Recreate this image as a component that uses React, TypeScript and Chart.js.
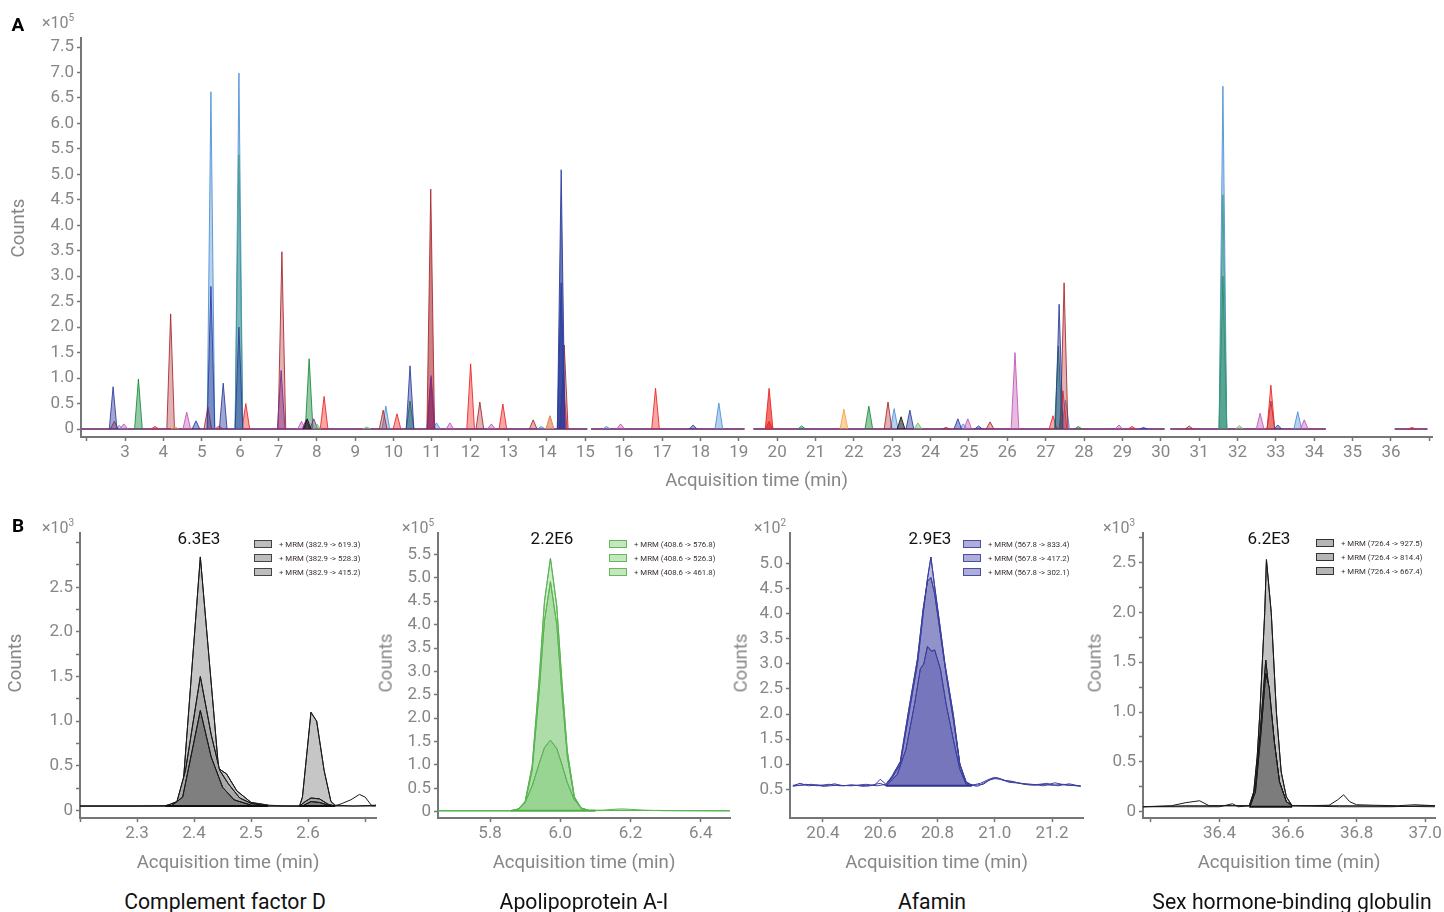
import React, { useEffect, useRef } from 'react';
import { Chart, registerables } from 'chart.js';

Chart.register(...registerables);

const FONT = 'Roboto, "Noto Sans", "DejaVu Sans", sans-serif';
const TICK_GRAY = '#868686';
const AXIS_GRAY = '#74777a';

/* ================= Panel A: MRM chromatogram (x10^5 counts) ================= */
const A_X_TICKS = [2, 3, 4, 5, 6, 7, 8, 9, 10, 11, 12, 13, 14, 15, 16, 17, 18, 19, 20, 21, 22, 23, 24, 25, 26, 27, 28, 29, 30, 31, 32, 33, 34, 35, 36, 37];
const A_X_LABELED = [3, 4, 5, 6, 7, 8, 9, 10, 11, 12, 13, 14, 15, 16, 17, 18, 19, 20, 21, 22, 23, 24, 25, 26, 27, 28, 29, 30, 31, 32, 33, 34, 35, 36];
const A_Y_TICKS = [0, 0.5, 1, 1.5, 2, 2.5, 3, 3.5, 4, 4.5, 5, 5.5, 6, 6.5, 7, 7.5];

// peaks: [retention time (min), apex height (x10^5)]
const A_LIGHTBLUE = [[2.85, 0.07], [5.24, 6.62], [5.97, 6.99], [9.8, 0.45], [11.12, 0.12], [13.85, 0.05], [15.55, 0.05], [18.48, 0.51], [23.05, 0.4], [24.85, 0.1], [27.52, 0.57], [31.62, 6.73], [33.57, 0.34]];
const A_TEAL = [[5.97, 5.38], [31.62, 4.6]];
const A_NAVY = [[2.69, 0.83], [4.85, 0.16], [5.24, 2.8], [5.56, 0.9], [5.97, 2.0], [10.43, 1.24], [14.37, 5.09], [14.37, 2.87], [17.81, 0.08], [23.46, 0.37], [24.71, 0.2], [25.25, 0.06], [27.35, 2.45], [29.55, 0.03], [33.05, 0.08]];
const A_GREEN = [[3.35, 0.98], [7.8, 1.38], [10.43, 0.55], [20.64, 0.06], [22.39, 0.45], [27.33, 1.63], [27.85, 0.05], [31.62, 3.0]];
const A_LIGHTGREEN = [[8.0, 0.1], [9.3, 0.04], [23.67, 0.12], [32.05, 0.07]];
const A_RED = [[3.78, 0.05], [5.45, 0.06], [6.15, 0.5], [8.19, 0.64], [10.09, 0.3], [12.01, 1.28], [12.85, 0.49], [14.42, 1.0], [16.83, 0.8], [19.79, 0.8], [19.79, 0.15], [27.19, 0.26], [27.45, 0.75], [29.25, 0.05], [32.87, 0.86], [36.55, 0.03]];
const A_DARKRED = [[2.72, 0.15], [4.19, 2.26], [5.16, 0.43], [7.09, 3.48], [9.73, 0.37], [10.97, 4.71], [10.97, 1.0], [12.25, 0.53], [13.64, 0.18], [14.45, 1.65], [22.89, 0.53], [24.4, 0.03], [25.55, 0.14], [27.48, 2.87], [30.74, 0.06], [32.87, 0.55]];
const A_MAGENTA = [[2.97, 0.1], [4.61, 0.33], [7.6, 0.15], [11.47, 0.12], [12.55, 0.1], [14.08, 0.26], [15.92, 0.1], [24.97, 0.2], [26.2, 1.5], [28.91, 0.08], [32.59, 0.31], [33.74, 0.18]];
const A_PURPLE = [[7.07, 1.15], [7.72, 0.18], [7.92, 0.2], [10.98, 1.05]];
const A_ORANGE = [[4.3, 0.05], [14.07, 0.25], [21.74, 0.39]];
const A_BLACK = [[7.75, 0.2], [23.23, 0.24]];
// acquisition segments (min) drawn as baseline
const A_BASE_SEGMENTS = [[1.86, 15.05], [15.15, 19.15], [19.38, 30.1], [30.25, 34.3], [36.1, 36.95]];

/* ================= Panel B1: Complement factor D (x10^3) ================= */
const B1_X_TICKS = [2.2, 2.3, 2.4, 2.5, 2.6, 2.7];
const B1_X_LABELED = [2.3, 2.4, 2.5, 2.6];
const B1_Y_TICKS = [0, 0.25, 0.5, 0.75, 1, 1.25, 1.5, 1.75, 2, 2.25, 2.5, 2.75, 3];
const B1_Y_LABELED = [0, 0.5, 1, 1.5, 2, 2.5];
const B1_619 = [[2.2, 0.05], [2.3, 0.05], [2.35, 0.055], [2.37, 0.08], [2.38, 0.22], [2.411, 2.84], [2.443, 0.47], [2.457, 0.41], [2.475, 0.22], [2.5, 0.09], [2.53, 0.06], [2.56, 0.05], [2.585, 0.05], [2.59, 0.15], [2.605, 1.1], [2.615, 1.0], [2.628, 0.45], [2.64, 0.1], [2.647, 0.06], [2.68, 0.05], [2.72, 0.06]];
const B1_528 = [[2.2, 0.05], [2.35, 0.05], [2.37, 0.1], [2.385, 0.45], [2.411, 1.5], [2.43, 0.85], [2.445, 0.45], [2.46, 0.3], [2.48, 0.14], [2.5, 0.08], [2.53, 0.05], [2.585, 0.05], [2.595, 0.1], [2.605, 0.14], [2.62, 0.13], [2.635, 0.07], [2.647, 0.05], [2.66, 0.08], [2.675, 0.12], [2.69, 0.18], [2.7, 0.15], [2.712, 0.05], [2.72, 0.06]];
const B1_415 = [[2.2, 0.05], [2.36, 0.05], [2.38, 0.15], [2.411, 1.12], [2.43, 0.6], [2.45, 0.26], [2.47, 0.12], [2.5, 0.06], [2.53, 0.05], [2.59, 0.05], [2.605, 0.1], [2.62, 0.09], [2.64, 0.05], [2.72, 0.05]];
const B1_FILL = [[2.35, 2.53], [2.585, 2.647]];
const B1_BASE = 0.05;
const B1_LEGEND = ['+ MRM (382.9 -> 619.3)', '+ MRM (382.9 -> 528.3)', '+ MRM (382.9 -> 415.2)'];

/* ================= Panel B2: Apolipoprotein A-I (x10^5) ================= */
const B2_X_TICKS = [5.8, 6.0, 6.2, 6.4];
const B2_Y_TICKS = [0, 0.5, 1, 1.5, 2, 2.5, 3, 3.5, 4, 4.5, 5, 5.5];
const B2_576 = [[5.652, 0.02], [5.86, 0.02], [5.88, 0.05], [5.9, 0.22], [5.92, 0.98], [5.94, 2.85], [5.955, 4.5], [5.972, 5.42], [5.99, 4.4], [6.005, 2.75], [6.02, 1.3], [6.04, 0.32], [6.06, 0.07], [6.08, 0.03], [6.12, 0.03], [6.15, 0.05], [6.175, 0.06], [6.2, 0.05], [6.24, 0.03], [6.3, 0.02], [6.483, 0.02]];
const B2_526 = [[5.652, 0.02], [5.86, 0.02], [5.88, 0.04], [5.9, 0.2], [5.92, 0.88], [5.94, 2.58], [5.955, 4.08], [5.972, 4.92], [5.99, 4.0], [6.005, 2.5], [6.02, 1.18], [6.04, 0.29], [6.06, 0.06], [6.08, 0.02], [6.175, 0.03], [6.483, 0.02]];
const B2_461 = [[5.652, 0.02], [5.86, 0.02], [5.88, 0.06], [5.9, 0.2], [5.92, 0.55], [5.94, 1.03], [5.955, 1.37], [5.972, 1.53], [5.99, 1.35], [6.005, 1.0], [6.02, 0.62], [6.04, 0.25], [6.06, 0.08], [6.08, 0.03], [6.483, 0.02]];
const B2_FILL = [[5.86, 6.1]];
const B2_BASE = 0.02;
const B2_LEGEND = ['+ MRM (408.6 -> 576.8)', '+ MRM (408.6 -> 526.3)', '+ MRM (408.6 -> 461.8)'];

/* ================= Panel B3: Afamin (x10^2) ================= */
const B3_X_TICKS = [20.4, 20.6, 20.8, 21.0, 21.2];
const B3_Y_TICKS = [0.5, 1, 1.5, 2, 2.5, 3, 3.5, 4, 4.5, 5];
const B3_833 = [[20.295, 0.57], [20.32, 0.62], [20.35, 0.57], [20.38, 0.59], [20.41, 0.57], [20.44, 0.61], [20.47, 0.57], [20.5, 0.59], [20.54, 0.56], [20.58, 0.58], [20.6, 0.7], [20.62, 0.6], [20.64, 0.72], [20.67, 1.0], [20.7, 2.0], [20.73, 3.0], [20.75, 4.0], [20.765, 4.7], [20.777, 5.13], [20.79, 4.55], [20.81, 3.7], [20.826, 3.0], [20.855, 2.0], [20.878, 1.0], [20.9, 0.65], [20.92, 0.58], [20.95, 0.62], [20.98, 0.7], [21.0, 0.74], [21.03, 0.68], [21.06, 0.66], [21.1, 0.6], [21.14, 0.58], [21.18, 0.62], [21.22, 0.57], [21.26, 0.61], [21.3, 0.56]];
const B3_417 = [[20.295, 0.58], [20.33, 0.58], [20.36, 0.6], [20.4, 0.56], [20.45, 0.58], [20.5, 0.57], [20.55, 0.6], [20.59, 0.57], [20.62, 0.6], [20.64, 0.75], [20.67, 1.05], [20.7, 2.1], [20.73, 3.1], [20.75, 4.1], [20.765, 4.65], [20.777, 4.72], [20.79, 4.4], [20.81, 3.6], [20.83, 2.8], [20.855, 1.9], [20.878, 1.0], [20.9, 0.62], [20.93, 0.58], [20.96, 0.6], [20.99, 0.72], [21.02, 0.7], [21.05, 0.64], [21.09, 0.62], [21.13, 0.6], [21.17, 0.57], [21.21, 0.63], [21.25, 0.58], [21.3, 0.57]];
const B3_302 = [[20.295, 0.56], [20.34, 0.6], [20.38, 0.57], [20.42, 0.6], [20.46, 0.57], [20.5, 0.58], [20.56, 0.57], [20.6, 0.62], [20.62, 0.57], [20.66, 0.8], [20.69, 1.3], [20.72, 2.2], [20.74, 2.9], [20.752, 3.0], [20.765, 3.35], [20.78, 3.25], [20.79, 3.28], [20.81, 2.9], [20.83, 2.2], [20.855, 1.5], [20.878, 0.9], [20.9, 0.6], [20.94, 0.56], [20.98, 0.68], [21.01, 0.73], [21.04, 0.67], [21.08, 0.63], [21.12, 0.59], [21.16, 0.6], [21.2, 0.58], [21.24, 0.6], [21.3, 0.56]];
const B3_FILL = [[20.62, 20.92]];
const B3_BASE = 0.57;
const B3_LEGEND = ['+ MRM (567.8 -> 833.4)', '+ MRM (567.8 -> 417.2)', '+ MRM (567.8 -> 302.1)'];

/* ================= Panel B4: Sex hormone-binding globulin (x10^3) ================= */
const B4_X_TICKS = [36.2, 36.4, 36.6, 36.8, 37.0];
const B4_X_LABELED = [36.4, 36.6, 36.8, 37.0];
const B4_Y_TICKS = [0, 0.25, 0.5, 0.75, 1, 1.25, 1.5, 1.75, 2, 2.25, 2.5, 2.75];
const B4_Y_LABELED = [0, 0.5, 1, 1.5, 2, 2.5];
const B4_927 = [[36.177, 0.05], [36.25, 0.055], [36.3, 0.06], [36.4, 0.06], [36.487, 0.06], [36.5, 0.2], [36.51, 0.55], [36.518, 1.0], [36.532, 2.0], [36.537, 2.53], [36.551, 2.0], [36.566, 1.0], [36.58, 0.4], [36.595, 0.15], [36.612, 0.06], [36.65, 0.06], [36.72, 0.065], [36.745, 0.12], [36.762, 0.17], [36.78, 0.1], [36.8, 0.07], [36.85, 0.065], [36.92, 0.06], [36.97, 0.07], [37.029, 0.06]];
const B4_814 = [[36.177, 0.05], [36.26, 0.06], [36.3, 0.09], [36.342, 0.11], [36.37, 0.06], [36.45, 0.06], [36.49, 0.06], [36.505, 0.25], [36.52, 0.85], [36.535, 1.52], [36.545, 1.2], [36.56, 0.7], [36.575, 0.3], [36.595, 0.1], [36.612, 0.06], [36.7, 0.06], [36.8, 0.06], [36.9, 0.055], [37.029, 0.05]];
const B4_667 = [[36.177, 0.05], [36.3, 0.05], [36.4, 0.05], [36.438, 0.08], [36.455, 0.05], [36.49, 0.06], [36.505, 0.2], [36.52, 0.75], [36.535, 1.39], [36.545, 1.25], [36.56, 0.7], [36.575, 0.3], [36.595, 0.1], [36.612, 0.06], [36.75, 0.05], [36.9, 0.05], [37.0, 0.06], [37.029, 0.06]];
const B4_FILL = [[36.487, 36.612]];
const B4_BASE = 0.05;
const B4_LEGEND = ['+ MRM (726.4 -> 927.5)', '+ MRM (726.4 -> 814.4)', '+ MRM (726.4 -> 667.4)'];

/* ================= layout (page pixels) ================= */
type Geo = { left: number; top: number; width: number; height: number; areaL: number; areaR: number; areaT: number; areaB: number; padY: number };
const GEO_A: Geo = { left: 0, top: 0, width: 1444, height: 500, areaL: 81, areaR: 1432, areaT: 38, areaB: 437, padY: 7 };
const GEO_B1: Geo = { left: 0, top: 520, width: 386, height: 360, areaL: 80, areaR: 376, areaT: 533, areaB: 818, padY: 5 };
const GEO_B2: Geo = { left: 372, top: 520, width: 366, height: 360, areaL: 438, areaR: 730, areaT: 533, areaB: 818, padY: 5 };
const GEO_B3: Geo = { left: 727, top: 520, width: 365, height: 360, areaL: 790, areaR: 1083, areaT: 533, areaB: 818, padY: 5 };
const GEO_B4: Geo = { left: 1081, top: 520, width: 363, height: 360, areaL: 1143, areaR: 1437, areaT: 533, areaB: 818, padY: 5 };

const A_PEAK_HALF_WIDTH = 0.1;

function axis(kind: 'x' | 'y', geo: Geo, min: number, max: number, ticks: number[], label: (v: number) => string, title: string) {
  return {
    type: 'linear',
    position: kind === 'x' ? 'bottom' : 'left',
    min,
    max,
    afterBuildTicks: (s: any) => {
      s.ticks = ticks.map((v) => ({ value: v }));
    },
    afterFit: (s: any) => {
      if (kind === 'x') s.height = geo.top + geo.height - geo.areaB;
      else s.width = geo.areaL - geo.left;
    },
    ticks: {
      autoSkip: false,
      maxRotation: 0,
      minRotation: 0,
      padding: kind === 'x' ? 2 : 3,
      color: TICK_GRAY,
      font: { family: FONT, size: 17 },
      callback: (v: any) => label(Number(v)),
    },
    grid: { drawOnChartArea: false, drawTicks: true, tickLength: 4, tickWidth: 1.5, color: AXIS_GRAY },
    border: { display: true, color: AXIS_GRAY, width: 2 },
    title: {
      display: kind === 'x',
      text: title,
      color: TICK_GRAY,
      font: { family: FONT, size: 18.6 },
      padding: { top: 0, bottom: geo.padY },
    },
  };
}

function options(geo: Geo, x: any, y: any) {
  return {
    responsive: false,
    maintainAspectRatio: false,
    animation: false,
    layout: { padding: { left: 0, top: geo.areaT - geo.top, right: geo.left + geo.width - geo.areaR, bottom: 0 } },
    plugins: { legend: { display: false }, tooltip: { enabled: false } },
    elements: { point: { radius: 0 }, line: { tension: 0 } },
    scales: { x, y },
  };
}

function oneDec(v: number) {
  return v === 0 ? '0' : v.toFixed(1);
}

function peakSeries(peaks: number[][], color: string, fillAlpha: number) {
  const data: any[] = [];
  [...peaks].sort((a, b) => a[0] - b[0]).forEach(([t, h]) => {
    data.push({ x: t - A_PEAK_HALF_WIDTH, y: 0 }, { x: t, y: h }, { x: t + A_PEAK_HALF_WIDTH, y: 0 }, { x: t + A_PEAK_HALF_WIDTH, y: null });
  });
  return { data, borderColor: color + 'dd', borderWidth: 1, backgroundColor: color + Math.round(fillAlpha * 255).toString(16).padStart(2, '0'), fill: 'origin', pointRadius: 0, spanGaps: false };
}

function baseSeries(color: string, width: number) {
  const data: any[] = [];
  A_BASE_SEGMENTS.forEach(([a, b]) => {
    data.push({ x: a, y: 0 }, { x: b, y: 0 }, { x: b, y: null });
  });
  return { data, borderColor: color, borderWidth: width, fill: false, pointRadius: 0, spanGaps: false };
}

function buildA() {
  // back-to-front
  const layers = [
    peakSeries(A_LIGHTBLUE, '#4b8fd6', 0.4),
    peakSeries(A_DARKRED, '#a8262c', 0.35),
    peakSeries(A_RED, '#ec2320', 0.4),
    peakSeries(A_MAGENTA, '#c253b4', 0.4),
    peakSeries(A_ORANGE, '#f2a13a', 0.45),
    peakSeries(A_GREEN, '#178a3a', 0.45),
    peakSeries(A_TEAL, '#3f9a86', 0.45),
    peakSeries(A_NAVY, '#2b3b9c', 0.45),
    peakSeries(A_PURPLE, '#7d2b8c', 0.45),
    peakSeries(A_LIGHTGREEN, '#5fc85a', 0.45),
    peakSeries(A_BLACK, '#111111', 0.55),
  ];
  return [...layers.reverse(), baseSeries('#d94f6a', 1), baseSeries('#3650a8', 2.2)];
}

function buildPanel(traces: number[][][], fillRanges: number[][], base: number, fills: string[], borders: string[], baseColor: string) {
  const ds: any[] = [];
  fillRanges.forEach(([a, b]) => {
    ds.push({ data: [{ x: a, y: base }, { x: b, y: base }], borderColor: baseColor, borderWidth: 2, fill: false, pointRadius: 0 });
  });
  for (let i = 0; i < traces.length; i++) {
    const pts = traces[i].map(([x, y]) => ({ x, y }));
    ds.push({ data: pts, borderColor: borders[i], borderWidth: 1, fill: false, pointRadius: 0 });
    fillRanges.forEach(([a, b]) => {
      ds.push({ data: pts.filter((p) => p.x >= a && p.x <= b), borderColor: borders[i], borderWidth: 1, backgroundColor: fills[i], fill: { value: base }, pointRadius: 0 });
    });
  }
  return ds;
}

const Txt = ({ x, y, size, color, bold, rotate, children }: any) => (
  <div style={{ position: 'absolute', left: x, top: y, transform: `translate(-50%, -50%)${rotate ? ' rotate(-90deg)' : ''}`, fontSize: size, color, fontWeight: bold ? 700 : 400, lineHeight: 1, whiteSpace: 'nowrap', fontFamily: FONT }}>{children}</div>
);

const Exp = ({ x, y, p }: any) => (
  <div style={{ position: 'absolute', left: x, top: y, transform: 'translate(-50%, -50%)', fontSize: 16, color: TICK_GRAY, lineHeight: 1, whiteSpace: 'nowrap', fontFamily: FONT }}>
    ×10<span style={{ fontSize: 10, position: 'relative', top: -7 }}>{p}</span>
  </div>
);

const Legend = ({ x, y, items, fill, border }: any) => (
  <>
    {items.map((t: string, i: number) => (
      <div key={i} style={{ position: 'absolute', left: x, top: y + i * 14 - 5, height: 10, display: 'flex', alignItems: 'center', fontFamily: FONT }}>
        <div style={{ width: 16, height: 6, background: fill, border: `1px solid ${border}` }} />
        <span style={{ marginLeft: 7, fontSize: 7.8, color: '#3a3030', whiteSpace: 'nowrap' }}>{t}</span>
      </div>
    ))}
  </>
);

export default function App() {
  const refA = useRef<HTMLCanvasElement>(null);
  const ref1 = useRef<HTMLCanvasElement>(null);
  const ref2 = useRef<HTMLCanvasElement>(null);
  const ref3 = useRef<HTMLCanvasElement>(null);
  const ref4 = useRef<HTMLCanvasElement>(null);

  useEffect(() => {
    const charts: Chart[] = [];
    const XT = 'Acquisition time (min)';
    charts.push(
      new Chart(refA.current!, {
        type: 'line',
        data: { datasets: buildA() },
        options: options(
          GEO_A,
          axis('x', GEO_A, 1.853, 37.07, A_X_TICKS, (v) => (A_X_LABELED.includes(v) ? String(v) : ''), XT),
          axis('y', GEO_A, -0.157, 7.677, A_Y_TICKS, oneDec, 'Counts')
        ) as any,
      })
    );
    charts.push(
      new Chart(ref1.current!, {
        type: 'line',
        data: { datasets: buildPanel([B1_415, B1_528, B1_619], B1_FILL, B1_BASE, ['#7f7f7f', '#a9a9a9', '#c6c6c6'], ['#1a1a1a', '#1a1a1a', '#1a1a1a'], '#111111') },
        options: options(
          GEO_B1,
          axis('x', GEO_B1, 2.2, 2.719, B1_X_TICKS, (v) => (B1_X_LABELED.includes(v) ? v.toFixed(1) : ''), XT),
          axis('y', GEO_B1, -0.084, 3.106, B1_Y_TICKS, (v) => (B1_Y_LABELED.includes(v) ? oneDec(v) : ''), 'Counts')
        ) as any,
      })
    );
    charts.push(
      new Chart(ref2.current!, {
        type: 'line',
        data: { datasets: buildPanel([B2_461, B2_526, B2_576], B2_FILL, B2_BASE, ['rgba(100,190,90,0.3)', 'rgba(100,190,90,0.3)', 'rgba(100,190,90,0.3)'], ['#5ab552', '#5ab552', '#5ab552'], '#4fae47') },
        options: options(
          GEO_B2,
          axis('x', GEO_B2, 5.652, 6.483, B2_X_TICKS, (v) => v.toFixed(1), XT),
          axis('y', GEO_B2, -0.135, 5.955, B2_Y_TICKS, oneDec, 'Counts')
        ) as any,
      })
    );
    charts.push(
      new Chart(ref3.current!, {
        type: 'line',
        data: { datasets: buildPanel([B3_302, B3_417, B3_833], B3_FILL, B3_BASE, ['rgba(70,70,165,0.36)', 'rgba(70,70,165,0.36)', 'rgba(70,70,165,0.36)'], ['#3b3f9e', '#3b3f9e', '#3b3f9e'], '#2f3390') },
        options: options(
          GEO_B3,
          axis('x', GEO_B3, 20.285, 21.308, B3_X_TICKS, (v) => v.toFixed(1), XT),
          axis('y', GEO_B3, -0.072, 5.606, B3_Y_TICKS, oneDec, 'Counts')
        ) as any,
      })
    );
    charts.push(
      new Chart(ref4.current!, {
        type: 'line',
        data: { datasets: buildPanel([B4_667, B4_814, B4_927], B4_FILL, B4_BASE, ['#7c7c7c', '#a4a4a4', '#c2c2c2'], ['#1a1a1a', '#1a1a1a', '#1a1a1a'], '#111111') },
        options: options(
          GEO_B4,
          axis('x', GEO_B4, 36.177, 37.029, B4_X_TICKS, (v) => (B4_X_LABELED.includes(v) ? v.toFixed(1) : ''), XT),
          axis('y', GEO_B4, -0.063, 2.795, B4_Y_TICKS, (v) => (B4_Y_LABELED.includes(v) ? oneDec(v) : ''), 'Counts')
        ) as any,
      })
    );
    return () => charts.forEach((c) => c.destroy());
  }, []);

  const cv = (g: Geo) => ({ position: 'absolute' as const, left: g.left, top: g.top, width: g.width, height: g.height });

  return (
    <div style={{ position: 'absolute', left: 0, top: 0, width: 1444, height: 912, background: '#ffffff', overflow: 'hidden', fontFamily: FONT }}>
      <canvas ref={refA} width={GEO_A.width} height={GEO_A.height} style={cv(GEO_A)} />
      <canvas ref={ref1} width={GEO_B1.width} height={GEO_B1.height} style={cv(GEO_B1)} />
      <canvas ref={ref2} width={GEO_B2.width} height={GEO_B2.height} style={cv(GEO_B2)} />
      <canvas ref={ref3} width={GEO_B3.width} height={GEO_B3.height} style={cv(GEO_B3)} />
      <canvas ref={ref4} width={GEO_B4.width} height={GEO_B4.height} style={cv(GEO_B4)} />

      <Txt x={18} y={228} size={18.6} color={TICK_GRAY} rotate>Counts</Txt>
      <Txt x={15} y={663} size={18.6} color={TICK_GRAY} rotate>Counts</Txt>
      <Txt x={386} y={663} size={18.6} color={TICK_GRAY} rotate>Counts</Txt>
      <Txt x={741} y={663} size={18.6} color={TICK_GRAY} rotate>Counts</Txt>
      <Txt x={1095} y={663} size={18.6} color={TICK_GRAY} rotate>Counts</Txt>

      <Txt x={18} y={24} size={19} color="#000" bold>A</Txt>
      <Exp x={58} y={23} p="5" />
      <Txt x={18} y={525} size={19} color="#000" bold>B</Txt>
      <Exp x={58} y={528} p="3" />
      <Exp x={418} y={528} p="5" />
      <Exp x={770} y={528} p="2" />
      <Exp x={1119} y={528} p="3" />

      <Txt x={199} y={538} size={17} color="#111">6.3E3</Txt>
      <Txt x={552} y={538} size={17} color="#111">2.2E6</Txt>
      <Txt x={930} y={538} size={17} color="#111">2.9E3</Txt>
      <Txt x={1269} y={538} size={17} color="#111">6.2E3</Txt>

      <Legend x={254} y={544} items={B1_LEGEND} fill="#bdbdbd" border="#444" />
      <Legend x={609} y={544} items={B2_LEGEND} fill="#c6e6bf" border="#63b95a" />
      <Legend x={963} y={544} items={B3_LEGEND} fill="#aeaed8" border="#4a4ea2" />
      <Legend x={1316} y={543} items={B4_LEGEND} fill="#b5b5b5" border="#333" />

      <Txt x={225} y={902} size={21.2} color="#111">Complement factor D</Txt>
      <Txt x={584} y={902} size={21.2} color="#111">Apolipoprotein A-I</Txt>
      <Txt x={932} y={902} size={21.2} color="#111">Afamin</Txt>
      <Txt x={1292} y={902} size={21.2} color="#111">Sex hormone-binding globulin</Txt>
    </div>
  );
}
